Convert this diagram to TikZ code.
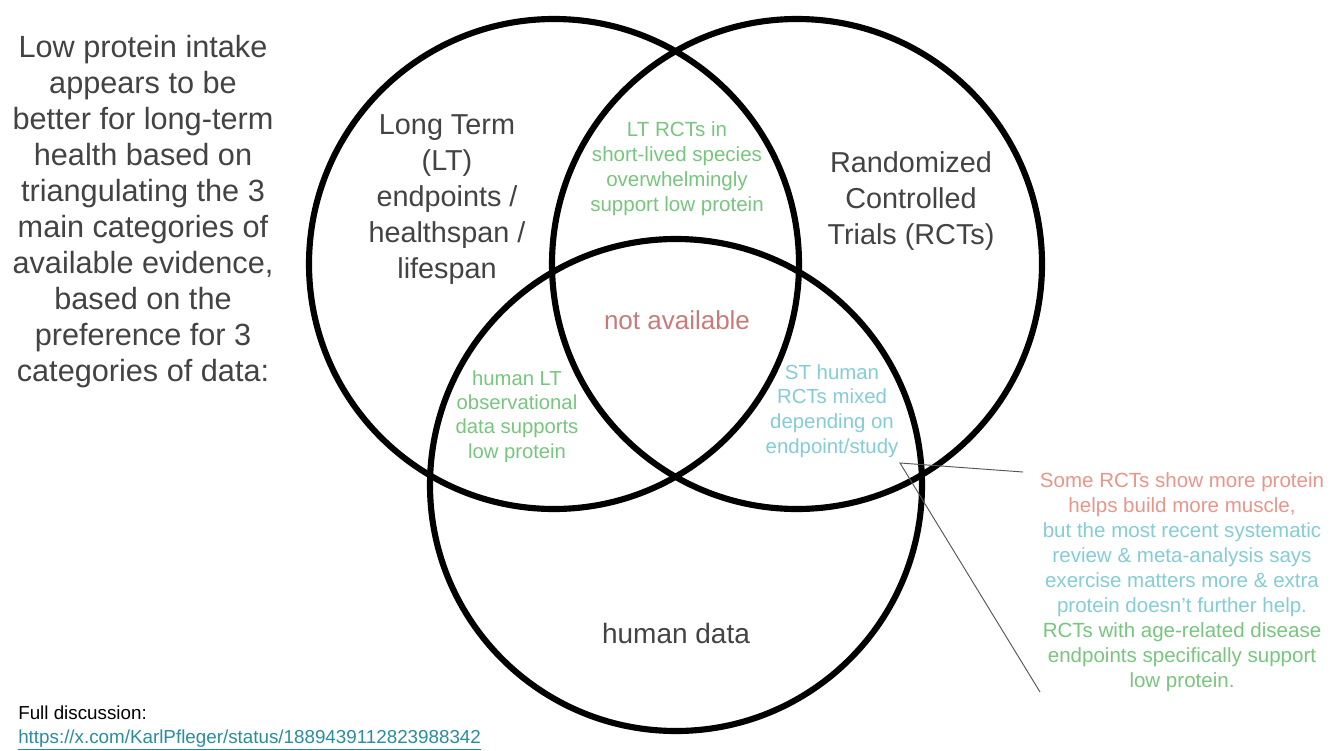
\documentclass[tikz,border=0pt]{standalone}
\usepackage{fontspec}
\setmainfont{Liberation Sans}
\definecolor{txtgray}{HTML}{434343}
\definecolor{vgreen}{HTML}{78C67E}
\definecolor{vcyan}{HTML}{84CDD6}
\definecolor{vsalmon}{HTML}{E8968A}
\definecolor{vrose}{HTML}{C97B7B}
\definecolor{vlink}{HTML}{2A8D9C}
\definecolor{leadgray}{HTML}{555555}
\tikzset{
  vcircle/.style={line width=4.6pt, draw=black},
  lbl/.style={inner sep=0pt, align=center, anchor=base},
  biglbl/.style={lbl, text=txtgray, font=\fontsize{21.6}{27}\selectfont},
  smalllbl/.style={lbl, font=\fontsize{15.4}{18.6}\selectfont},
  leader/.style={draw=leadgray, line width=0.7pt},
  footer/.style={inner sep=0pt, anchor=base west, font=\fontsize{14.1}{18}\selectfont},
}
\begin{document}
\begin{tikzpicture}[x=0.75pt, y=-0.75pt]
\useasboundingbox (0,0) rectangle (1342,750);
\fill[white] (0,0) rectangle (1342,750);

% circles
\draw[vcircle] (554,264) circle[radius=245];
\draw[vcircle] (797,264) circle[radius=245];
\draw[vcircle] (676,485) circle[radius=246];

% left title
\node[lbl, text=txtgray, font=\fontsize{23}{27}\selectfont] (title) at (143,381)
  {Low protein intake\\appears to be\\better for long-term\\health based on\\triangulating the 3\\main categories of\\available evidence,\\based on the\\preference for 3\\categories of data:};

% circle labels
\node[biglbl] (lt) at (447,278) {Long Term\\(LT)\\endpoints /\\healthspan /\\lifespan};
\node[biglbl] (rct) at (911,244) {Randomized\\Controlled\\Trials (RCTs)};
\node[biglbl, font=\fontsize{21}{27}\selectfont] (human) at (676,643) {human data};

% intersection labels
\node[smalllbl, text=vgreen] (ltrct) at (677,211) {LT RCTs in\\short-lived species\\overwhelmingly\\support low protein};
\node[lbl, text=vrose, font=\fontsize{19.5}{24}\selectfont] (na) at (677,329) {not available};
\node[smalllbl, text=vcyan, font=\fontsize{15.3}{18.4}\selectfont] (st) at (832,453) {ST human\\RCTs mixed\\depending on\\endpoint/study};
\node[smalllbl, text=vgreen, font=\fontsize{15.2}{18.2}\selectfont] (hlt) at (517,458) {human LT\\observational\\data supports\\low protein};

% right note
\node[lbl, font=\fontsize{15.4}{18.7}\selectfont] (note) at (1182,687)
  {\textcolor{vsalmon}{Some RCTs show more protein}\\
   \textcolor{vsalmon}{helps build more muscle,}\\
   \textcolor{vcyan}{but the most recent systematic}\\
   \textcolor{vcyan}{review \& meta-analysis says}\\
   \textcolor{vcyan}{exercise matters more \& extra}\\
   \textcolor{vcyan}{protein doesn’t further help.}\\
   \textcolor{vgreen}{RCTs with age-related disease}\\
   \textcolor{vgreen}{endpoints specifically support}\\
   \textcolor{vgreen}{low protein.}};

% leader lines
\coordinate (lv) at (900,463);
\coordinate (le1) at (1023,472);
\coordinate (le2) at (1040,692);
\draw[leader] (le1) -- (lv) -- (le2);

% footer
\node[footer, text=black] (full) at (18,719) {Full discussion:};
\node[footer, text=vlink] (url) at (18,743) {\underline{https://x.com/KarlPfleger/status/1889439112823988342}};
\end{tikzpicture}
\end{document}
